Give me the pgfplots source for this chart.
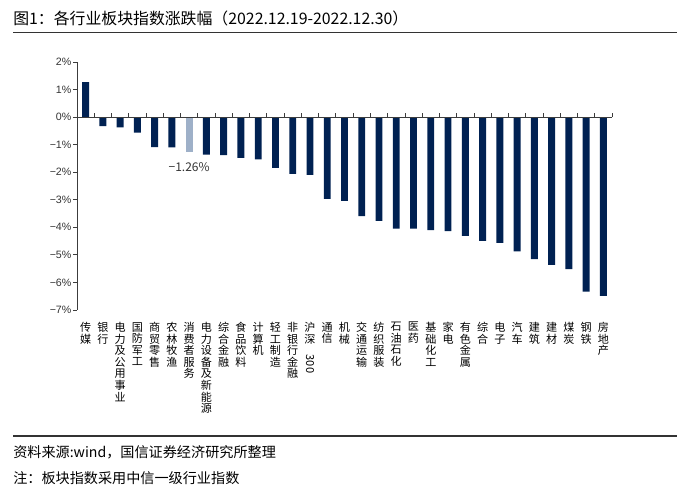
\documentclass[border=0pt]{standalone}
\usepackage{fontspec}
\usepackage{graphicx}
\setmainfont{Liberation Sans}
\newfontfamily\cjk{Noto Sans CJK SC}
\usepackage{pgfplots}
\pgfplotsset{compat=1.18}
\definecolor{navy}{RGB}{0,33,82}
\definecolor{hl}{RGB}{158,176,200}
\definecolor{ln}{RGB}{51,51,51}
\definecolor{tk}{RGB}{60,60,60}
\begin{document}
\begin{tikzpicture}
\path[use as bounding box] (0,0) rectangle (515.25pt,-376.5pt);
\node[anchor=west,inner sep=0pt,font=\cjk\fontsize{11.9}{13}\selectfont,text=black] at (9.75pt,-13.5pt) {图1：各行业板块指数涨跌幅（2022.12.19-2022.12.30）};
\draw[ln,line width=1.1pt] (9.75pt,-24.2pt) -- (507.75pt,-24.2pt);
\draw[ln,line width=1.1pt] (9.75pt,-327pt) -- (507.75pt,-327pt);
\node[anchor=west,inner sep=0pt,font=\cjk\fontsize{10.6}{12}\selectfont,text=black] at (9.75pt,-339pt) {资料来源:wind，国信证券经济研究所整理};
\node[anchor=west,inner sep=0pt,font=\cjk\fontsize{10.6}{12}\selectfont,text=black] at (9.75pt,-358.5pt) {注：板块指数采用中信一级行业指数};
\begin{axis}[
  at={(57.75pt,-46.5pt)}, anchor=north west,
  scale only axis, width=401.25pt, height=186pt,
  xmin=-0.5, xmax=30.5, ymin=-7, ymax=2,
  ybar, bar width=0.4, bar shift=0pt,
  axis y line*=left, axis x line*=bottom,
  x axis line style={draw=none},
  y axis line style={tk, line width=0.7pt},
  xtick style={draw=none},
  ytick style={tk, line width=0.7pt},
  tick align=outside, major tick length=3pt,
  ytick={-7,-6,...,2},
  yticklabels={−7\%,−6\%,−5\%,−4\%,−3\%,−2\%,−1\%,0\%,1\%,2\%},
  yticklabel style={font=\fontsize{8}{9}\selectfont, text=ln, inner sep=1pt},
  xtick={0,1,...,30},
  xticklabel style={anchor=north, align=center, font=\cjk\fontsize{8.3}{8.7}\selectfont, text=black, inner sep=0pt, yshift=-6pt},
  xticklabels={
    {传\\媒},{银\\行},{电\\力\\及\\公\\用\\事\\业},{国\\防\\军\\工},{商\\贸\\零\\售},{农\\林\\牧\\渔},{消\\费\\者\\服\\务},{电\\力\\设\\备\\及\\新\\能\\源},{综\\合\\金\\融},{食\\品\\饮\\料},
    {计\\算\\机},{轻\\工\\制\\造},{非\\银\\行\\金\\融},{沪\\深\\\rotatebox{-90}{300}},{通\\信},{机\\械},{交\\通\\运\\输},{纺\\织\\服\\装},{石\\油\\石\\化},{医\\药},
    {基\\础\\化\\工},{家\\电},{有\\色\\金\\属},{综\\合},{电\\子},{汽\\车},{建\\筑},{建\\材},{煤\\炭},{钢\\铁},{房\\地\\产}},
  clip=false,
]
\addplot[fill=navy, draw=none] coordinates {
(0,1.27) (1,-0.33) (2,-0.37) (3,-0.56) (4,-1.09) (5,-1.10)
(7,-1.36) (8,-1.38) (9,-1.48) (10,-1.53) (11,-1.84) (12,-2.06) (13,-2.10)
(14,-2.97) (15,-3.04) (16,-3.59) (17,-3.77) (18,-4.05) (19,-4.05) (20,-4.10)
(21,-4.14) (22,-4.31) (23,-4.49) (24,-4.56) (25,-4.87) (26,-5.15) (27,-5.36)
(28,-5.52) (29,-6.33) (30,-6.49)};
\addplot[fill=hl, draw=none] coordinates {(6,-1.26)};
\draw[tk, line width=0.7pt] (axis cs:-0.5,0) -- (axis cs:30.5,0);
\pgfplotsinvokeforeach{0.5,1.5,...,30.5}{\draw[tk, line width=0.6pt] (axis cs:#1,0) -- ++(0pt,3pt);}
\node[anchor=north, inner sep=0pt, font=\cjk\fontsize{9}{10}\selectfont, text=ln] at (axis cs:6,-1.26) [yshift=-8pt] {−1.26\%};
\end{axis}
\end{tikzpicture}
\end{document}
